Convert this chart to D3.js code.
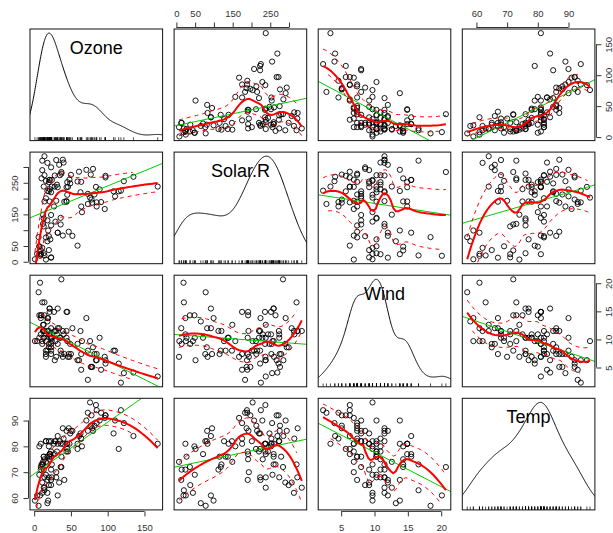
<!DOCTYPE html>
<html>
<head>
<meta charset="utf-8">
<script src="https://cdn.jsdelivr.net/npm/d3@7"></script>
<style>
  body { margin: 0; background: #fff; }
  svg { font-family: "Liberation Sans", Arial, sans-serif; }
</style>
</head>
<body>
<svg id="chart"></svg>
<script>
const width = 613;
const height = 533;

// airquality columns (null = NA)
const names = ["Ozone", "Solar.R", "Wind", "Temp"];
const ozone = [41,36,12,18,null,28,23,19,8,null,7,16,11,14,18,14,34,6,30,11,1,11,4,32,null,null,null,23,45,115,
  37,null,null,null,null,null,null,29,null,71,39,null,null,23,null,null,21,37,20,12,13,null,null,null,null,null,null,null,null,null,
  null,135,49,32,null,64,40,77,97,97,85,null,10,27,null,7,48,35,61,79,63,16,null,null,80,108,20,52,82,50,
  64,59,39,9,16,78,35,66,122,89,110,null,null,44,28,65,null,22,59,23,31,44,21,9,null,45,168,73,null,76,
  118,84,85,96,78,73,91,47,32,20,23,21,24,44,21,28,9,13,46,18,13,24,16,13,23,36,7,14,30,null,14,18,20];
const solarR = [190,118,149,313,null,null,299,99,19,194,null,256,290,274,65,334,307,78,322,44,8,320,25,92,66,266,null,13,252,223,
  279,286,287,242,186,220,264,127,273,291,323,259,250,148,332,322,191,284,37,120,137,150,59,91,250,135,127,47,98,31,
  138,269,248,236,101,175,314,276,267,272,175,139,264,175,291,48,260,274,285,187,220,7,258,295,294,223,81,82,213,275,
  253,254,83,24,77,null,null,null,255,229,207,222,137,192,273,157,64,71,51,115,244,190,259,36,255,212,238,215,153,203,
  225,237,188,167,197,183,189,95,92,252,220,230,259,236,259,238,24,112,237,224,27,238,201,238,14,139,49,20,193,145,191,131,223];
const wind = [7.4,8.0,12.6,11.5,14.3,14.9,8.6,13.8,20.1,8.6,6.9,9.7,9.2,10.9,13.2,11.5,12.0,18.4,11.5,9.7,9.7,16.6,9.7,12.0,16.6,14.9,8.0,12.0,14.9,5.7,
  7.4,8.6,9.7,16.1,9.2,8.6,14.3,9.7,6.9,13.8,11.5,10.9,9.2,8.0,13.8,11.5,14.9,20.7,9.2,11.5,10.3,6.3,1.7,4.6,6.3,8.0,8.0,10.3,11.5,14.9,
  8.0,4.1,9.2,9.2,10.9,4.6,10.9,5.1,6.3,5.7,7.4,8.6,14.3,14.9,14.9,14.3,6.9,10.3,6.3,5.1,11.5,6.9,9.7,11.5,8.6,8.0,8.6,12.0,7.4,7.4,
  7.4,9.2,6.9,13.8,7.4,6.9,7.4,4.6,4.0,10.3,8.0,8.6,11.5,11.5,11.5,9.7,11.5,10.3,6.3,7.4,10.9,10.3,15.5,14.3,12.6,9.7,3.4,8.0,5.7,9.7,
  2.3,6.3,6.3,6.9,5.1,2.8,4.6,7.4,15.5,10.9,10.3,10.9,9.7,14.9,15.5,6.3,10.9,11.5,6.9,13.8,10.3,10.3,8.0,12.6,9.2,10.3,10.3,16.6,6.9,13.2,14.3,8.0,11.5];
const temp = [67,72,74,62,56,66,65,59,61,69,74,69,66,68,58,64,66,57,68,62,59,73,61,61,57,58,57,67,81,79,
  76,78,74,67,84,85,79,82,87,90,87,93,92,82,80,79,77,72,65,73,76,77,76,76,76,75,78,73,80,77,
  83,84,85,81,84,83,83,88,92,92,89,82,73,81,91,80,81,82,84,87,85,74,81,82,86,85,82,86,88,86,
  83,81,81,81,82,86,85,87,89,90,90,92,86,86,82,80,79,77,79,76,78,78,77,72,75,79,81,86,88,97,
  94,96,94,91,92,93,93,87,84,80,78,75,73,81,76,77,71,71,78,67,76,68,82,64,71,81,69,63,70,77,75,76,68];

// axis ticks and the labels R actually printed
const tickValues = [[0,50,100,150],[0,50,100,150,200,250,300],[5,10,15,20],[60,70,80,90]];
const tickLabels = [[0,50,100,150],[0,50,150,250],[5,10,15,20],[60,70,80,90]];

// complete cases only
const raw = [ozone, solarR, wind, temp];
const keep = d3.range(ozone.length).filter(i => raw.every(a => a[i] != null));
const cols = raw.map(a => keep.map(i => a[i]));

const panelW = 132.6, panelH = 111.6, gap = 11.5;
const left0 = 30, top0 = 29;
const px = j => left0 + j * (panelW + gap);
const py = i => top0 + i * (panelH + gap);

const ext = v => { const [lo, hi] = d3.extent(v); const e = (hi - lo) * 0.04; return [lo - e, hi + e]; };
const xScales = cols.map((v, j) => d3.scaleLinear().domain(ext(v)).range([px(j), px(j) + panelW]));
const yScales = cols.map((v, i) => d3.scaleLinear().domain(ext(v)).range([py(i) + panelH, py(i)]));

const svg = d3.select("#chart").attr("width", width).attr("height", height);

// local polynomial fit at x0 (tricube * robustness weights)
function localFit(xs, ys, rw, x0, q, degree) {
  const n = xs.length;
  const dist = xs.map(x => Math.abs(x - x0));
  const sorted = dist.slice().sort((a, b) => a - b);
  let h = sorted[Math.min(q, n) - 1];
  if (!(h > 0)) h = 1e-10;
  const S = [0, 0, 0, 0, 0], T = [0, 0, 0];
  for (let i = 0; i < n; i++) {
    const u = dist[i] / h;
    if (u >= 1) continue;
    const w = Math.pow(1 - u * u * u, 3) * rw[i];
    if (w <= 0) continue;
    const t = (xs[i] - x0) / h;
    let tp = 1;
    for (let k = 0; k < 5; k++) { S[k] += w * tp; if (k < 3) T[k] += w * tp * ys[i]; tp *= t; }
  }
  if (degree >= 2) {
    const A = [[S[0], S[1], S[2]], [S[1], S[2], S[3]], [S[2], S[3], S[4]]];
    const det = m => m[0][0] * (m[1][1] * m[2][2] - m[1][2] * m[2][1]) - m[0][1] * (m[1][0] * m[2][2] - m[1][2] * m[2][0]) + m[0][2] * (m[1][0] * m[2][1] - m[1][1] * m[2][0]);
    const D = det(A);
    if (Math.abs(D) > 1e-12 * Math.pow(S[0], 3)) {
      const A0 = A.map((r, k) => [T[k], r[1], r[2]]);
      return det(A0) / D;
    }
  }
  if (degree >= 1) {
    const D = S[0] * S[2] - S[1] * S[1];
    if (Math.abs(D) > 1e-12 * S[0] * S[0]) return (S[2] * T[0] - S[1] * T[1]) / D;
  }
  return S[0] > 0 ? T[0] / S[0] : NaN;
}

function loess(xs, ys, span, degree, iterations) {
  const n = xs.length, q = Math.floor(n * span);
  let rw = new Array(n).fill(1), fitted;
  for (let it = 0; it < iterations; it++) {
    fitted = xs.map(x0 => localFit(xs, ys, rw, x0, q, degree));
    if (it === iterations - 1) break;
    const res = ys.map((y, k) => y - fitted[k]);
    const cmad = 6 * d3.median(res.map(Math.abs));
    rw = res.map(r => {
      const a = Math.abs(r);
      if (a <= 0.001 * cmad) return 1;
      if (a > 0.999 * cmad) return 0;
      const u = a / cmad;
      return (1 - u * u) ** 2;
    });
  }
  const [lo, hi] = d3.extent(xs), mu = 0.005 * (hi - lo);
  return {
    predict: x0 => (x0 < lo - mu || x0 > hi + mu) ? NaN : localFit(xs, ys, rw, x0, q, degree),
    residuals: ys.map((y, k) => y - fitted[k])
  };
}

function density(v) {
  const n = v.length;
  const s = v.slice().sort(d3.ascending);
  const iqr = d3.quantileSorted(s, 0.75) - d3.quantileSorted(s, 0.25);
  const bw = 0.9 * Math.min(d3.deviation(v), iqr / 1.34) * Math.pow(n, -0.2);
  const lo = s[0] - 3 * bw, hi = s[n - 1] + 3 * bw;
  return d3.range(512).map(k => {
    const x = lo + k * (hi - lo) / 511;
    const d = d3.sum(v, xi => Math.exp(-0.5 * ((x - xi) / bw) ** 2)) / (n * bw * Math.sqrt(2 * Math.PI));
    return [x, d];
  });
}

const defs = svg.append("defs");
const axisColor = "#333";

for (let i = 0; i < 4; i++) {
  for (let j = 0; j < 4; j++) {
    const xs = xScales[j], ys = yScales[i];
    const clipId = `clip-${i}-${j}`;
    defs.append("clipPath").attr("id", clipId)
      .append("rect").attr("x", px(j)).attr("y", py(i)).attr("width", panelW).attr("height", panelH);
    const g = svg.append("g");
    const inner = g.append("g").attr("clip-path", `url(#${clipId})`);

    if (i === j) {
      const v = cols[i];
      const dens = density(v);
      const [vmin, vmax] = d3.extent(v);
      const [dmin, dmax] = d3.extent(dens, d => d[1]);
      inner.append("path")
        .datum(dens)
        .attr("fill", "none").attr("stroke", "#000").attr("stroke-width", 1)
        .attr("d", d3.line().x(d => xs(d[0])).y(d => ys(vmin + d[1] * (vmax - vmin) / (dmax - dmin))));
      inner.selectAll("line.rug").data(v).enter().append("line")
        .attr("x1", d => xs(d)).attr("x2", d => xs(d))
        .attr("y1", py(i) + panelH).attr("y2", py(i) + panelH - 0.03 * panelH)
        .attr("stroke", "#000").attr("stroke-width", 0.7);
      g.append("text")
        .attr("x", px(j) + panelW / 2)
        .attr("y", py(i) + panelH * (1 - 0.8333) + 0.35 * 18)
        .attr("text-anchor", "middle").attr("font-size", 18).attr("fill", "#000")
        .text(names[i]);
    } else {
      const xv = cols[j], yv = cols[i];
      // points
      inner.selectAll("circle").data(xv.map((x, k) => [x, yv[k]])).enter().append("circle")
        .attr("cx", d => xs(d[0])).attr("cy", d => ys(d[1])).attr("r", 2.6)
        .attr("fill", "none").attr("stroke", "#000").attr("stroke-width", 0.9);
      // least squares line
      const mx = d3.mean(xv), my = d3.mean(yv);
      const b = d3.sum(xv, (x, k) => (x - mx) * (yv[k] - my)) / d3.sum(xv, x => (x - mx) ** 2);
      const a = my - b * mx;
      const [d0, d1] = xs.domain();
      inner.append("line")
        .attr("x1", xs(d0)).attr("y1", ys(a + b * d0)).attr("x2", xs(d1)).attr("y2", ys(a + b * d1))
        .attr("stroke", "#00CD00").attr("stroke-width", 1);
      // loess smooth with spread
      const fit = loess(xv, yv, 0.5, 2, 4);
      const [lo, hi] = d3.extent(xv);
      const xEval = d3.range(50).map(k => lo + k * (hi - lo) / 49);
      const yEval = xEval.map(fit.predict);
      const res = fit.residuals;
      const posIdx = d3.range(xv.length).filter(k => res[k] > 0);
      const negIdx = d3.range(xv.length).filter(k => !(res[k] > 0));
      const posFit = loess(posIdx.map(k => xv[k]), posIdx.map(k => res[k] ** 2), 0.5, 0, 4);
      const negFit = loess(negIdx.map(k => xv[k]), negIdx.map(k => res[k] ** 2), 0.5, 0, 4);
      const upper = xEval.map((x, k) => [x, yEval[k] + Math.sqrt(posFit.predict(x))]);
      const lower = xEval.map((x, k) => [x, yEval[k] - Math.sqrt(negFit.predict(x))]);
      const line = d3.line().defined(d => isFinite(d[1])).x(d => xs(d[0])).y(d => ys(d[1]));
      inner.append("path").datum(xEval.map((x, k) => [x, yEval[k]]))
        .attr("fill", "none").attr("stroke", "#FF0000").attr("stroke-width", 2).attr("d", line);
      [upper, lower].forEach(pts => {
        inner.append("path").datum(pts)
          .attr("fill", "none").attr("stroke", "#FF0000").attr("stroke-width", 1)
          .attr("stroke-dasharray", "4,4").attr("d", line);
      });
    }

    // panel frame
    g.append("rect").attr("x", px(j)).attr("y", py(i)).attr("width", panelW).attr("height", panelH)
      .attr("fill", "none").attr("stroke", "#111").attr("stroke-width", 1);
  }
}

// axes: R style, line only between first and last tick
function styleAxis(ag, vals, scale, horizontal) {
  ag.select(".domain").remove();
  ag.selectAll(".tick line").attr("stroke", axisColor);
  const [a, b] = d3.extent(vals).map(scale);
  ag.append("line")
    .attr(horizontal ? "x1" : "y1", a).attr(horizontal ? "x2" : "y2", b)
    .attr(horizontal ? "y1" : "x1", 0).attr(horizontal ? "y2" : "x2", 0)
    .attr("stroke", axisColor);
  ag.selectAll(".tick text").attr("fill", axisColor).attr("font-size", 9.5)
    .attr("font-family", "Liberation Sans, Arial, sans-serif");
}
const fmt = k => d => tickLabels[k].includes(d) ? d : "";

for (let k = 0; k < 4; k++) {
  const vals = tickValues[k];
  if (k % 2 === 1) {
    // top axis for this column, left axis for this row
    const top = svg.append("g").attr("transform", `translate(0,${top0 - 1.5})`)
      .call(d3.axisTop(xScales[k]).tickValues(vals).tickSize(5).tickSizeOuter(0).tickFormat(fmt(k)));
    styleAxis(top, vals, xScales[k], true);
    top.selectAll(".tick text").attr("y", -11).attr("dy", null);

    const left = svg.append("g").attr("transform", `translate(${left0 - 1.5},0)`)
      .call(d3.axisLeft(yScales[k]).tickValues(vals).tickSize(5).tickSizeOuter(0).tickFormat(fmt(k)));
    styleAxis(left, vals, yScales[k], false);
    left.selectAll(".tick text").attr("x", 0).attr("dy", null).attr("text-anchor", "middle")
      .attr("transform", "translate(-11,0) rotate(-90)");
  } else {
    const bottomY = py(3) + panelH;
    const bottom = svg.append("g").attr("transform", `translate(0,${bottomY + 1.5})`)
      .call(d3.axisBottom(xScales[k]).tickValues(vals).tickSize(5).tickSizeOuter(0).tickFormat(fmt(k)));
    styleAxis(bottom, vals, xScales[k], true);
    bottom.selectAll(".tick text").attr("y", 19.5).attr("dy", null);

    const rightX = px(3) + panelW;
    const right = svg.append("g").attr("transform", `translate(${rightX + 1.5},0)`)
      .call(d3.axisRight(yScales[k]).tickValues(vals).tickSize(5).tickSizeOuter(0).tickFormat(fmt(k)));
    styleAxis(right, vals, yScales[k], false);
    right.selectAll(".tick text").attr("x", 0).attr("dy", null).attr("text-anchor", "middle")
      .attr("transform", "translate(15.5,0) rotate(-90)");
  }
}
</script>
</body>
</html>
